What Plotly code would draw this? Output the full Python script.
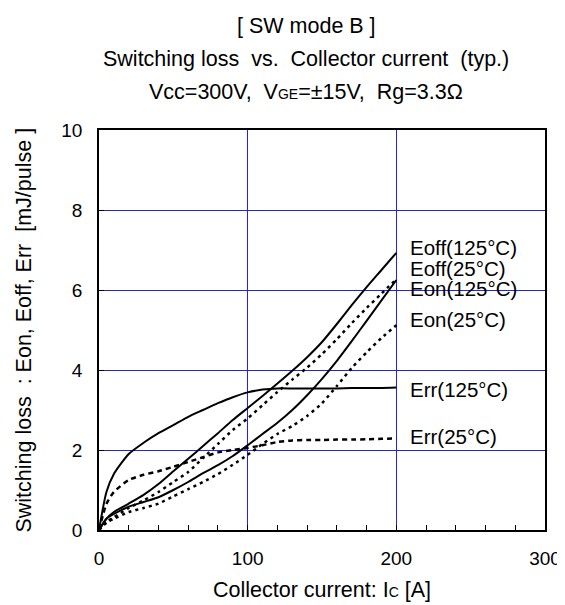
import plotly.graph_objects as go

# Collector current [A]
ic = [0, 5, 10, 20, 30, 40, 50, 60, 70, 80, 90, 100, 110, 120, 130, 140, 150, 160, 170, 180, 190, 200]

eoff_125 = [0, 0.28, 0.45, 0.66, 0.88, 1.15, 1.47, 1.78, 2.10, 2.42, 2.75, 3.05, 3.35, 3.66, 3.98, 4.32, 4.70, 5.15, 5.62, 6.07, 6.50, 6.93]
eoff_25 = [0, 0.20, 0.32, 0.55, 0.74, 0.95, 1.20, 1.45, 1.80, 2.15, 2.50, 2.79, 3.12, 3.45, 3.76, 4.06, 4.40, 4.77, 5.17, 5.55, 5.91, 6.27]
eon_125 = [0, 0.28, 0.40, 0.58, 0.70, 0.82, 1.00, 1.20, 1.42, 1.62, 1.85, 2.12, 2.40, 2.68, 3.00, 3.37, 3.78, 4.23, 4.72, 5.23, 5.74, 6.25]
eon_25 = [0, 0.18, 0.28, 0.45, 0.55, 0.66, 0.84, 1.02, 1.20, 1.40, 1.63, 1.88, 2.15, 2.40, 2.60, 2.85, 3.17, 3.60, 4.05, 4.44, 4.80, 5.12]
err_125 = [0, 0.95, 1.40, 1.90, 2.18, 2.42, 2.62, 2.83, 3.00, 3.17, 3.32, 3.44, 3.51, 3.54, 3.54, 3.54, 3.54, 3.54, 3.55, 3.55, 3.55, 3.56]
err_25 = [0, 0.65, 0.95, 1.25, 1.38, 1.47, 1.58, 1.70, 1.82, 1.94, 2.00, 2.05, 2.12, 2.20, 2.24, 2.25, 2.25, 2.26, 2.26, 2.27, 2.28, 2.29]

series_names = ["Eoff(125°C)", "Eoff(25°C)", "Eon(125°C)", "Eon(25°C)", "Err(125°C)", "Err(25°C)"]
series_values = [eoff_125, eoff_25, eon_125, eon_25, err_125, err_25]
series_dash = ["solid", "3px,4px", "solid", "3px,4px", "solid", "5px,4px"]
label_y = [7.07, 6.53, 6.05, 5.27, 3.52, 2.34]

x_ticks = [0, 100, 200, 300]
y_ticks = [0, 2, 4, 6, 8, 10]

FONT = "Liberation Sans, Arial, sans-serif"
FS_TITLE = 21.5
FS_AXT = 21.5
FS_LBL = 20.5
FS_TICK = 19

fig = go.Figure()
for name, vals, dash in zip(series_names, series_values, series_dash):
    fig.add_trace(go.Scatter(
        x=ic, y=vals, mode="lines", name=name,
        line=dict(color="black", width=2 if dash == "solid" else 2.5,
                  dash=dash, shape="spline", smoothing=0.6),
        showlegend=False, hoverinfo="skip"))

for name, ly in zip(series_names, label_y):
    fig.add_annotation(x=208, y=ly, xref="x", yref="y", text=name, showarrow=False,
                       xanchor="left", yanchor="middle",
                       font=dict(size=FS_LBL, color="black", family=FONT))

titles = ["[ SW mode B ]",
          "Switching loss  vs.  Collector current  (typ.)",
          "Vcc=300V,  V<span style='font-size:14px'>GE</span>=±15V,  Rg=3.3Ω"]
title_y = [18, 51, 84]
for t, py in zip(titles, title_y):
    fig.add_annotation(x=(305 - 91) / 461, y=(522 - py) / 400, xref="paper", yref="paper", text=t,
                       showarrow=False, xanchor="center", yanchor="middle",
                       font=dict(size=FS_TITLE, color="black", family=FONT))

fig.add_annotation(x=(321 - 91) / 461, y=(522 - 582) / 400, xref="paper", yref="paper",
                   text="Collector current: I<span style='font-size:14px'>C</span> [A]",
                   showarrow=False, xanchor="center", yanchor="middle",
                   font=dict(size=FS_AXT, color="black", family=FONT))
fig.add_annotation(x=(13 - 91) / 461, y=0.5, xref="paper", yref="paper",
                   text="Switching loss  : Eon, Eoff, Err  [mJ/pulse ]", textangle=-90,
                   showarrow=False, xanchor="center", yanchor="middle",
                   font=dict(size=FS_AXT, color="black", family=FONT))

fig.update_layout(
    width=565, height=605,
    margin=dict(l=91, r=13, t=122, b=83),
    paper_bgcolor="white", plot_bgcolor="white",
    font=dict(family=FONT, size=FS_TICK, color="black"),
    xaxis=dict(range=[0, 300], tickvals=x_ticks, ticks="inside", ticklen=5, tickcolor="black",
               showgrid=True, gridcolor="#2020ff", gridwidth=1,
               minor=dict(dtick=20, ticks="inside", ticklen=5, tickcolor="black", showgrid=False),
               showline=True, linecolor="black", linewidth=1.5, mirror=True,
               zeroline=False, ticklabelstandoff=10, ticklabeloverflow="allow",
               tickfont=dict(size=FS_TICK), fixedrange=True),
    yaxis=dict(range=[0, 10], tickvals=y_ticks, ticks="inside", ticklen=5, tickcolor="black",
               showgrid=True, gridcolor="#2020ff", gridwidth=1,
               showline=True, linecolor="black", linewidth=1.5, mirror=True,
               zeroline=False, ticklabelstandoff=11, ticklabeloverflow="allow",
               tickfont=dict(size=FS_TICK), fixedrange=True),
)

fig.write_html("out.html")
